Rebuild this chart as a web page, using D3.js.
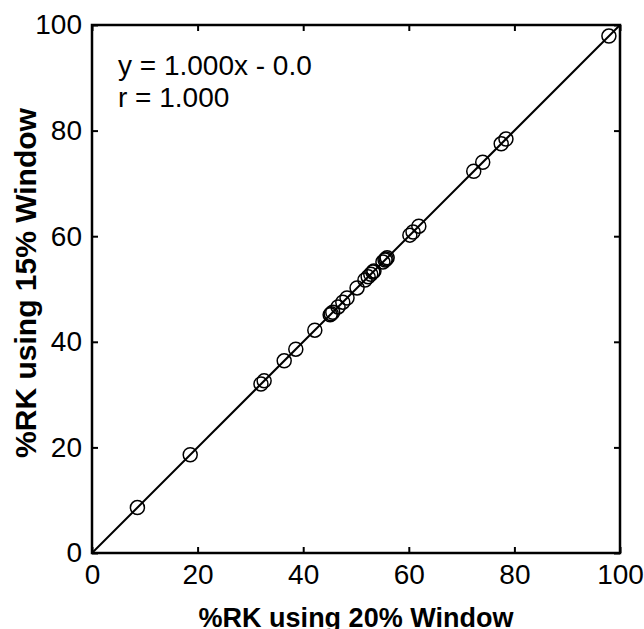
<!DOCTYPE html>
<html>
<head>
<meta charset="utf-8">
<script src="https://cdn.jsdelivr.net/npm/d3@7"></script>
<style>
  body { margin: 0; background: #fff; }
  text { font-family: "Liberation Sans", Arial, sans-serif; fill: #000; }
</style>
</head>
<body>
<div id="chart"></div>
<script>
var width = 644, height = 629;
var margin = {top: 25, right: 24, bottom: 76, left: 92};

// %RK using 20% window (x) vs 15% window (y)
var xValues = [8.6, 18.6, 32.0, 32.6, 36.4, 38.6, 42.2, 45.1, 45.3, 45.6, 46.6, 47.5, 48.3, 50.2,
  51.7, 52.3, 52.8, 53.2, 53.4, 55.1, 55.5, 55.7, 55.9, 60.2, 60.8, 61.9, 72.3, 74.0, 77.5, 78.4, 97.9];
var yValues = [8.6, 18.6, 32.0, 32.6, 36.4, 38.6, 42.2, 45.1, 45.3, 45.6, 46.6, 47.5, 48.3, 50.2,
  51.7, 52.3, 52.8, 53.2, 53.4, 55.1, 55.5, 55.7, 55.9, 60.2, 60.8, 61.9, 72.3, 74.0, 77.5, 78.4, 97.9];
var tickValues = [0, 20, 40, 60, 80, 100];
var fitLine = [[0, 0], [100, 100]];
var annotations = ["y = 1.000x - 0.0", "r = 1.000"];

var w = width - margin.left - margin.right;
var h = height - margin.top - margin.bottom;

var svg = d3.select("#chart").append("svg")
  .attr("width", width)
  .attr("height", height);

var g = svg.append("g")
  .attr("transform", "translate(" + margin.left + "," + margin.top + ")");

var x = d3.scaleLinear().domain([0, 100]).range([0, w]);
var y = d3.scaleLinear().domain([0, 100]).range([h, 0]);

// inward ticks on all four sides
function styleAxis(sel) {
  sel.select(".domain").remove();
  sel.selectAll(".tick line").attr("stroke", "#000").attr("stroke-width", 2);
  sel.selectAll("text").style("font-size", "28px");
}

g.append("g").attr("transform", "translate(0," + h + ")")
  .call(d3.axisBottom(x).tickValues(tickValues).tickSizeInner(-6).tickSizeOuter(0).tickPadding(11))
  .call(styleAxis);
g.append("g")
  .call(d3.axisLeft(y).tickValues(tickValues).tickSizeInner(-6).tickSizeOuter(0).tickPadding(10))
  .call(styleAxis);
g.append("g")
  .call(d3.axisTop(x).tickValues(tickValues).tickSizeInner(-6).tickSizeOuter(0).tickFormat(""))
  .call(styleAxis);
g.append("g").attr("transform", "translate(" + w + ",0)")
  .call(d3.axisRight(y).tickValues(tickValues).tickSizeInner(-6).tickSizeOuter(0).tickFormat(""))
  .call(styleAxis);

g.append("rect")
  .attr("width", w)
  .attr("height", h)
  .attr("fill", "none")
  .attr("stroke", "#000")
  .attr("stroke-width", 2.5);

g.append("path")
  .attr("d", d3.line().x(d => x(d[0])).y(d => y(d[1]))(fitLine))
  .attr("stroke", "#000")
  .attr("stroke-width", 2)
  .attr("fill", "none");

g.selectAll("circle")
  .data(xValues)
  .enter()
  .append("circle")
  .attr("cx", d => x(d))
  .attr("cy", (d, i) => y(yValues[i]))
  .attr("r", 7)
  .attr("fill", "none")
  .attr("stroke", "#000")
  .attr("stroke-width", 1.5);

g.selectAll(".note")
  .data(annotations)
  .enter()
  .append("text")
  .attr("class", "note")
  .attr("x", 26)
  .attr("y", (d, i) => 50 + i * 32)
  .style("font-size", "28px")
  .text(d => d);

svg.append("text")
  .attr("x", margin.left + w / 2)
  .attr("y", 627)
  .attr("text-anchor", "middle")
  .style("font-size", "27px")
  .style("font-weight", "bold")
  .text("%RK using 20% Window");

svg.append("text")
  .attr("transform", "translate(36," + (margin.top + h / 2 - 6) + ") rotate(-90)")
  .attr("text-anchor", "middle")
  .style("font-size", "30px")
  .style("font-weight", "bold")
  .text("%RK using 15% Window");
</script>
</body>
</html>
